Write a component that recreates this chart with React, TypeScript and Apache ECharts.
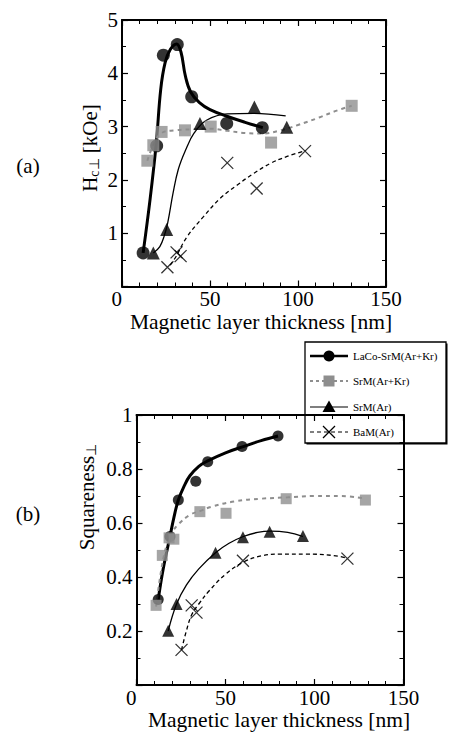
import React, { useEffect, useRef } from "react";
import * as echarts from "echarts";

const FONT = "'Liberation Serif', 'Times New Roman', serif";

// ---------- Panel (a): perpendicular coercivity Hc (kOe) ----------
const aLaCoX = [12, 19.7, 23.5, 31.4, 39.6, 59.5, 79.7];
const aLaCoY = [0.63, 2.64, 4.34, 4.54, 3.56, 3.06, 2.98];
const aSrMKrX = [14.4, 17.8, 22.5, 35.8, 50.4, 84.7, 130.5];
const aSrMKrY = [2.36, 2.65, 2.9, 2.93, 3.0, 2.7, 3.39];
const aSrMX = [17.8, 25.4, 44.3, 75.2, 93.6];
const aSrMY = [0.63, 1.07, 3.06, 3.37, 2.99];
const aBaMX = [25.8, 31, 33.3, 59.8, 76.5, 104];
const aBaMY = [0.36, 0.64, 0.57, 2.32, 1.84, 2.54];

// fitted guide curves
const aLaCoFitX = [12, 16, 19.5, 22, 24.5, 27.5, 31, 33.5, 36, 39, 44, 50, 60, 70, 80];
const aLaCoFitY = [0.63, 1.65, 2.7, 3.7, 4.2, 4.45, 4.55, 4.4, 3.95, 3.65, 3.45, 3.32, 3.19, 3.08, 2.98];
const aSrMKrFitX = [14.4, 17.8, 22.5, 30, 40, 50, 60, 70, 80, 90, 100, 112, 122, 130.5];
const aSrMKrFitY = [2.36, 2.65, 2.88, 2.93, 2.95, 2.96, 2.92, 2.88, 2.87, 2.93, 3.03, 3.17, 3.3, 3.39];
const aSrMFitX = [17.8, 21.5, 24, 26, 29, 32, 36, 41, 48, 60, 75, 93];
const aSrMFitY = [0.63, 0.75, 0.95, 1.2, 1.75, 2.2, 2.55, 2.88, 3.12, 3.24, 3.25, 3.2];
const aBaMFitX = [27.3, 30.1, 36.9, 46.3, 55.7, 65.3, 74.8, 84.3, 93.8, 104.2];
const aBaMFitY = [0.4, 0.53, 0.93, 1.31, 1.65, 1.9, 2.12, 2.31, 2.44, 2.55];

// ---------- Panel (b): perpendicular squareness ----------
const bLaCoX = [12.2, 18.8, 23.5, 33.3, 40, 59.3, 79.5];
const bLaCoY = [0.317, 0.55, 0.685, 0.755, 0.827, 0.883, 0.922];
const bSrMKrX = [11, 14.5, 18.3, 21, 35.6, 50.3, 84.1, 128.6];
const bSrMKrY = [0.295, 0.48, 0.545, 0.54, 0.642, 0.636, 0.69, 0.685];
const bSrMX = [17.8, 22.5, 44.4, 59.8, 74.8, 93.5];
const bSrMY = [0.201, 0.3, 0.49, 0.547, 0.568, 0.552];
const bBaMX = [25.3, 31, 33.7, 59.8, 118.5];
const bBaMY = [0.13, 0.295, 0.268, 0.46, 0.468];

const bLaCoFitX = [12.2, 15, 18.8, 21, 23.5, 27, 30, 35, 40, 50, 60, 70, 79.5];
const bLaCoFitY = [0.317, 0.43, 0.55, 0.62, 0.685, 0.74, 0.775, 0.81, 0.83, 0.86, 0.883, 0.905, 0.922];
const bSrMKrFitX = [11, 14, 17, 20, 23.5, 30, 36, 42, 55, 70, 85, 100, 115, 128.6];
const bSrMKrFitY = [0.29, 0.43, 0.52, 0.565, 0.595, 0.63, 0.645, 0.66, 0.68, 0.69, 0.695, 0.7, 0.7, 0.69];
const bSrMFitX = [17.8, 22.5, 28, 35, 44.4, 52, 60, 68, 75, 85, 93.5];
const bSrMFitY = [0.2, 0.3, 0.37, 0.43, 0.49, 0.525, 0.55, 0.565, 0.57, 0.565, 0.55];
const bBaMFitX = [25.3, 28, 31, 35, 41, 50, 60, 70, 80, 95, 110, 118.5];
const bBaMFitY = [0.13, 0.2, 0.26, 0.3, 0.35, 0.41, 0.455, 0.478, 0.485, 0.485, 0.48, 0.47];

const xTicksMax = 150;
const legendNames = ["LaCo-SrM(Ar+Kr)", "SrM(Ar+Kr)", "SrM(Ar)", "BaM(Ar)"];

const zip = (xs: number[], ys: number[]) => xs.map((x, i) => [x, ys[i]]);

const CROSS = "path://M0,0L12,12M12,0L0,12";
const GRAY = "#8e8e8e";

function xAx(gridIndex: number, position: string, labels: boolean) {
  return {
    type: "value",
    gridIndex,
    position,
    min: 0,
    max: xTicksMax,
    interval: 50,
    axisLine: { show: true, onZero: false, lineStyle: { color: "#000", width: 2 } },
    axisTick: { show: true, inside: true, length: 6, lineStyle: { color: "#000", width: 1.2 } },
    minorTick: { show: true, splitNumber: 5, length: 4, lineStyle: { color: "#000", width: 1 } },
    axisLabel: {
      show: labels,
      color: "#000",
      fontSize: 21,
      fontFamily: FONT,
      margin: 2,
      alignMinLabel: "right",
    },
    splitLine: { show: false },
    minorSplitLine: { show: false },
  };
}

function yAx(gridIndex: number, position: string, labels: boolean, max: number, interval: number) {
  return {
    type: "value",
    gridIndex,
    position,
    min: 0,
    max,
    interval,
    axisLine: { show: true, onZero: false, lineStyle: { color: "#000", width: 2 } },
    axisTick: { show: true, inside: true, length: 6, lineStyle: { color: "#000", width: 1.2 } },
    minorTick: { show: true, splitNumber: 2, length: 4, lineStyle: { color: "#000", width: 1 } },
    axisLabel: {
      show: labels,
      showMinLabel: false,
      color: "#000",
      fontSize: 21,
      fontFamily: FONT,
      margin: 4,
    },
    splitLine: { show: false },
    minorSplitLine: { show: false },
  };
}

function fit(axis: number, xs: number[], ys: number[], color: string, width: number, type: any) {
  return {
    type: "line",
    xAxisIndex: axis,
    yAxisIndex: axis,
    data: zip(xs, ys),
    smooth: 0.4,
    showSymbol: false,
    silent: true,
    lineStyle: { color, width, type },
    z: 2,
  };
}

function pts(axis: number, name: string, xs: number[], ys: number[], kind: string, size: number) {
  let symbol = "circle";
  let itemStyle: any = { color: "#000" };
  if (kind === "square") {
    symbol = "rect";
    itemStyle = { color: GRAY };
  } else if (kind === "triangle") {
    symbol = "triangle";
  } else if (kind === "cross") {
    symbol = CROSS;
    itemStyle = { color: "transparent", borderColor: "#000", borderWidth: 1.3 };
  }
  return {
    type: "scatter",
    name,
    xAxisIndex: axis,
    yAxisIndex: axis,
    data: zip(xs, ys),
    symbol,
    symbolSize: size,
    itemStyle,
    z: 3,
  };
}

function legendGraphic() {
  const left = 305;
  const top = 342;
  const rows = [356, 381, 407, 432];
  const lx1 = 310;
  const lx2 = 348;
  const sx = 329;
  const tx = 353;
  const children: any[] = [
    {
      type: "rect",
      shape: { x: left + 1.5, y: top + 1.5, width: 141, height: 101 },
      style: { fill: "#000" },
    },
    {
      type: "rect",
      shape: { x: left, y: top, width: 141, height: 101 },
      style: { fill: "#fff", stroke: "#000", lineWidth: 1.3 },
    },
  ];
  // row 1
  children.push({ type: "line", shape: { x1: lx1, y1: rows[0], x2: lx2, y2: rows[0] }, style: { stroke: "#000", lineWidth: 2.5 } });
  children.push({ type: "circle", shape: { cx: sx, cy: rows[0], r: 5.5 }, style: { fill: "#000" } });
  // row 2
  children.push({ type: "line", shape: { x1: lx1, y1: rows[1], x2: lx2, y2: rows[1] }, style: { stroke: GRAY, lineWidth: 2, lineDash: [3, 3] } });
  children.push({ type: "rect", shape: { x: sx - 5.5, y: rows[1] - 5.5, width: 11, height: 11 }, style: { fill: GRAY } });
  // row 3
  children.push({ type: "line", shape: { x1: lx1, y1: rows[2], x2: lx2, y2: rows[2] }, style: { stroke: "#000", lineWidth: 1.2 } });
  children.push({
    type: "polygon",
    shape: { points: [[sx, rows[2] - 6.5], [sx + 6.5, rows[2] + 5], [sx - 6.5, rows[2] + 5]] },
    style: { fill: "#000" },
  });
  // row 4
  children.push({ type: "line", shape: { x1: lx1, y1: rows[3], x2: lx2, y2: rows[3] }, style: { stroke: "#000", lineWidth: 1.2, lineDash: [4, 3] } });
  children.push({ type: "line", shape: { x1: sx - 6, y1: rows[3] - 6, x2: sx + 6, y2: rows[3] + 6 }, style: { stroke: "#000", lineWidth: 1.2 } });
  children.push({ type: "line", shape: { x1: sx + 6, y1: rows[3] - 6, x2: sx - 6, y2: rows[3] + 6 }, style: { stroke: "#000", lineWidth: 1.2 } });
  legendNames.forEach((n, i) => {
    children.push({
      type: "text",
      x: tx,
      y: rows[i],
      style: { text: n, fontSize: 11, fontFamily: FONT, fill: "#000", align: "left", verticalAlign: "middle" },
    });
  });
  return { type: "group", z: 100, children };
}

function textG(text: string, x: number, y: number, size: number, rotation = 0, rich?: any) {
  return {
    type: "text",
    x,
    y,
    rotation,
    z: 50,
    style: {
      text,
      rich,
      fontSize: size,
      fontFamily: FONT,
      fill: "#000",
      align: "center",
      verticalAlign: "middle",
    },
  };
}

export default function App() {
  const ref = useRef<HTMLDivElement>(null);
  useEffect(() => {
    if (!ref.current) return;
    const chart = echarts.init(ref.current, undefined, { renderer: "svg" });
    const rich = {
      m: { fontSize: 21, fontFamily: FONT, color: "#000" },
      s: { fontSize: 14, fontFamily: FONT, color: "#000", padding: [9, 0, 0, 0] },
    };
    const option: any = {
      animation: false,
      grid: [
        { left: 122, top: 20, width: 264, height: 266.5 },
        { left: 136.5, top: 415, width: 267, height: 270 },
      ],
      xAxis: [xAx(0, "bottom", true), xAx(0, "top", false), xAx(1, "bottom", true), xAx(1, "top", false)],
      yAxis: [
        yAx(0, "left", true, 5, 1),
        yAx(0, "right", false, 5, 1),
        yAx(1, "left", true, 1, 0.2),
        yAx(1, "right", false, 1, 0.2),
      ],
      series: [
        fit(0, aLaCoFitX, aLaCoFitY, "#000", 3, "solid"),
        fit(0, aSrMKrFitX, aSrMKrFitY, GRAY, 2, [4, 4]),
        fit(0, aSrMFitX, aSrMFitY, "#000", 1.3, "solid"),
        fit(0, aBaMFitX, aBaMFitY, "#000", 1.3, [4, 3]),
        pts(0, legendNames[0], aLaCoX, aLaCoY, "circle", 13),
        pts(0, legendNames[1], aSrMKrX, aSrMKrY, "square", 12),
        pts(0, legendNames[2], aSrMX, aSrMY, "triangle", 13),
        pts(0, legendNames[3], aBaMX, aBaMY, "cross", 12),
        fit(2, bLaCoFitX, bLaCoFitY, "#000", 3, "solid"),
        fit(2, bSrMKrFitX, bSrMKrFitY, GRAY, 2, [4, 4]),
        fit(2, bSrMFitX, bSrMFitY, "#000", 1.3, "solid"),
        fit(2, bBaMFitX, bBaMFitY, "#000", 1.3, [4, 3]),
        pts(2, legendNames[0], bLaCoX, bLaCoY, "circle", 11),
        pts(2, legendNames[1], bSrMKrX, bSrMKrY, "square", 11),
        pts(2, legendNames[2], bSrMX, bSrMY, "triangle", 12),
        pts(2, legendNames[3], bBaMX, bBaMY, "cross", 12),
      ],
      graphic: [
        textG("Magnetic layer thickness [nm]", 261, 322, 21.5),
        textG("Magnetic layer thickness [nm]", 279, 720, 21.5),
        textG("{m|H}{s|c⊥}{m| [kOe]}", 90, 148, 21, Math.PI / 2, rich),
        textG("{m|Squareness}{s|⊥}", 87, 497, 21, Math.PI / 2, rich),
        textG("(a)", 28, 166, 21),
        textG("(b)", 28, 514, 21),
        legendGraphic(),
      ],
    };
    chart.setOption(option);
    return () => chart.dispose();
  }, []);
  return <div ref={ref} style={{ width: 449, height: 732, position: "absolute", left: 0, top: 0, background: "#fff" }} />;
}
